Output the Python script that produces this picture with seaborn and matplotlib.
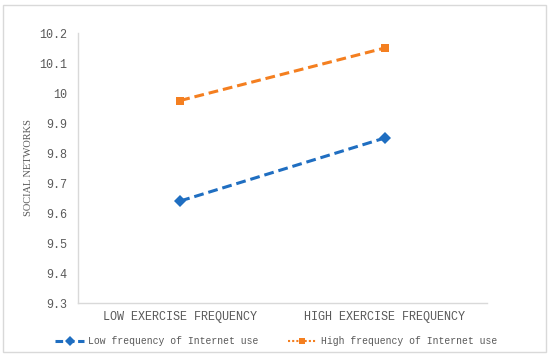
import matplotlib
matplotlib.use("Agg")
import matplotlib.pyplot as plt
import seaborn as sns
import pandas as pd
from matplotlib.lines import Line2D
from matplotlib.patches import Rectangle

categories = ["LOW EXERCISE FREQUENCY", "HIGH EXERCISE FREQUENCY"]
low_internet = [9.64, 9.85]
high_internet = [9.975, 10.15]
series_names = ["Low frequency of Internet use", "High frequency of Internet use"]
yticks = [9.3, 9.4, 9.5, 9.6, 9.7, 9.8, 9.9, 10.0, 10.1, 10.2]
ytick_labels = ["9.3", "9.4", "9.5", "9.6", "9.7", "9.8", "9.9", "10", "10.1", "10.2"]

sns.set_style("white")
plt.rcParams["font.family"] = ["Liberation Mono", "DejaVu Sans Mono"]

df = pd.DataFrame({
    "exercise": categories * 2,
    "value": low_internet + high_internet,
    "series": [series_names[0]] * 2 + [series_names[1]] * 2,
})

blue = "#1F6EC1"
orange = "#F47F20"

fig = plt.figure(figsize=(5.5, 3.59), dpi=100)
ax = fig.add_axes([78 / 550, 1 - 303 / 359, (487 - 78) / 550, (303 - 33) / 359])

sns.lineplot(data=df[df.series == series_names[0]], x="exercise", y="value", ax=ax,
             color=blue, linestyle=(0, (3.2, 1.6)), linewidth=2.2, marker="D",
             markersize=6, markeredgewidth=0, legend=False)
sns.lineplot(data=df[df.series == series_names[1]], x="exercise", y="value", ax=ax,
             color=orange, linestyle=(0, (3.2, 1.6)), linewidth=2.2, marker="s",
             markersize=6, markeredgewidth=0, legend=False)

ax.set_xlim(-0.5, 1.5)
ax.set_ylim(9.3, 10.2)
ax.set_yticks(yticks)
ax.set_yticklabels(ytick_labels)
ax.tick_params(axis="both", length=0, labelsize=8.5, labelcolor="#595959")
ax.tick_params(axis="y", pad=8)
ax.tick_params(axis="x", pad=6)
ax.set_xlabel("")
ax.set_ylabel("SOCIAL NETWORKS", fontsize=7.5, color="#595959", family=["Liberation Serif"], labelpad=4)
for s in ["top", "right"]:
    ax.spines[s].set_visible(False)
for s in ["left", "bottom"]:
    ax.spines[s].set_color("#D9D9D9")
    ax.spines[s].set_linewidth(1)

handles = [
    Line2D([], [], color=blue, linestyle=(0, (2.5, 1.2)), linewidth=2.2, marker="D", markersize=5, markeredgewidth=0),
    Line2D([], [], color=orange, linestyle=(0, (1, 1)), linewidth=1.5, marker="s", markersize=5, markeredgewidth=0),
]
fig.legend(handles, series_names, loc="center", bbox_to_anchor=(276 / 550, 1 - 341 / 359), ncol=2,
           frameon=False, fontsize=7, handlelength=3.0, columnspacing=3.0, handletextpad=0.4,
           labelcolor="#595959")

fig.add_artist(Rectangle((3 / 550, 1 - 352 / 359), 543 / 550, 347 / 359, transform=fig.transFigure,
                         fill=False, edgecolor="#D9D9D9", linewidth=1))

fig.savefig("out.png", dpi=100)
